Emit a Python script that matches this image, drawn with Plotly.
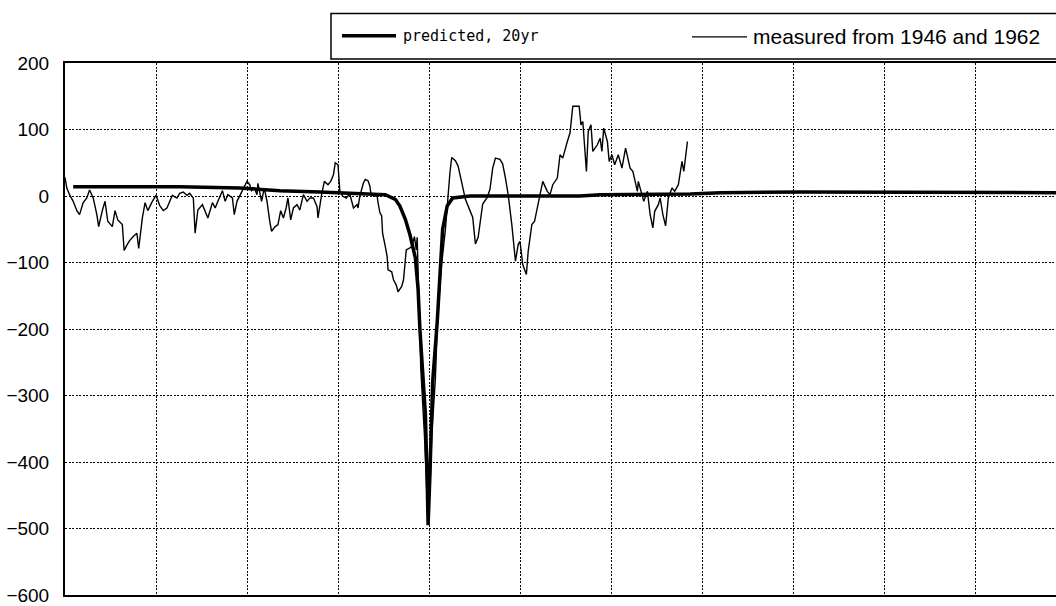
import plotly.graph_objects as go

# Predicted curve (thick line); x in time units, 10 units per grid cell
pred_x = [0.9, 12.6, 19.2, 23.6, 28.0, 32.4, 35.2, 36.3, 36.8, 37.4, 37.9, 38.5,
          38.8, 39.0, 39.6, 39.8, 39.9, 40.1, 40.4, 40.9, 41.2, 41.5, 42.0, 42.6,
          44.5, 56.6, 58.8, 68.7, 72.0, 80.8, 108.9]
pred_y = [14, 14, 12, 8, 6, 4, 2, -5, -15, -35, -58, -93,
          -140, -200, -327, -426, -495, -420, -280, -190, -115, -50, -15, -3,
          0, 0, 2, 3, 5, 6, 5]

# Measured series (thin line)
meas_x = [0.0, 0.2, 0.5, 0.9, 1.3, 1.6, 2.0, 2.4, 2.7, 3.1, 3.5, 3.7, 4.1, 4.4,
          4.7, 5.2, 5.5, 5.8, 6.3, 6.5, 6.8, 7.1, 7.5, 7.9, 8.1, 8.5, 8.8, 9.1,
          9.6, 10.0, 10.4, 10.8, 11.2, 11.5, 11.8, 12.3, 12.6, 13.0, 13.4, 13.7,
          14.1, 14.3, 14.6, 15.1, 15.4, 15.7, 16.2, 16.5, 16.8, 17.3, 17.6, 17.9,
          18.4, 18.6, 18.9, 19.2, 19.6, 20.0, 20.3, 20.5, 20.8, 21.1, 21.2, 21.6,
          21.9, 22.2, 22.5, 22.7, 23.1, 23.4, 23.7, 24.0, 24.3, 24.5, 24.8, 25.1,
          25.5, 25.8, 26.2, 26.6, 26.9, 27.3, 27.7, 27.8, 28.2, 28.5, 28.9, 29.2,
          29.5, 29.7, 30.0, 30.2, 30.5, 30.9, 31.3, 31.5, 31.7, 32.1, 32.2, 32.4,
          32.8, 33.0, 33.3, 33.5, 33.6, 33.9, 34.3, 34.4, 34.6, 34.8, 34.9, 35.2,
          35.4, 35.5, 35.9, 36.1, 36.4, 36.6, 37.0, 37.2, 37.4, 37.5, 37.9, 38.1,
          38.4, 38.6, 38.7, 38.9, 39.1, 39.5, 39.7, 39.9, 40.1, 40.3, 40.7, 40.9,
          41.2, 41.4, 41.8, 42.0, 42.3, 42.5, 42.9, 43.2, 43.7, 44.0, 44.5, 44.8,
          45.1, 45.4, 45.8, 45.9, 46.4, 46.7, 47.0, 47.3, 47.8, 48.1, 48.4, 48.7,
          49.1, 49.5, 49.8, 50.0, 50.3, 50.7, 50.9, 51.3, 51.6, 51.9, 52.2, 52.5,
          53.0, 53.3, 53.6, 54.1, 54.4, 54.7, 55.2, 55.5, 55.8, 56.5, 56.7, 56.9,
          57.3, 57.5, 57.8, 58.0, 58.5, 58.8, 59.0, 59.2, 59.6, 59.8, 60.1, 60.4,
          60.8, 61.2, 61.6, 62.1, 62.4, 62.9, 63.0, 63.4, 63.6, 64.0, 64.3, 64.6,
          64.8, 65.2, 65.4, 65.7, 66.0, 66.3, 66.7, 67.0, 67.4, 67.8, 68.0, 68.4]
meas_y = [28, 12, 2, -8, -22, -28, -10, -3, 9, -3, -28, -46, -22, -8,
          -38, -46, -22, -36, -43, -82, -74, -67, -61, -56, -79, -33, -10, -22,
          -8, 1, -14, -22, -18, -8, 1, -3, 4, 6, 1, 4,
          -3, -56, -21, -13, -22, -33, -10, -18, -8, 8, -8, 2,
          -3, -28, -8, 0, 12, 22, 17, 8, 12, 2, 19, -8,
          12, -8, -38, -53, -46, -43, -22, -33, -18, -3, -36, -18,
          -13, -21, 2, -8, -3, -3, -16, -33, 2, 22, 17, 22,
          32, 50, 47, 8, 0, -3, 3, -8, -18, -13, -18, 0,
          20, 25, 23, 15, 5, 0, 0, -10, -25, -30, -56, -76,
          -91, -111, -114, -126, -134, -144, -136, -126, -91, -81, -78, -76,
          -61, -81, -62, -160, -260, -360, -440, -492, -440, -360, -275, -200,
          -136, -101, -51, -10, 35, 58, 53, 45, 15, -5, -22, -32,
          -72, -62, -22, -12, -2, 10, 42, 57, 55, 48, 27, 2,
          -43, -98, -73, -68, -103, -118, -83, -43, -38, -18, 2, 22,
          7, 2, 17, 27, 62, 57, 82, 95, 135, 135, 107, 112,
          37, 97, 107, 67, 77, 87, 67, 102, 82, 52, 62, 47,
          62, 42, 72, 42, 37, 7, 22, 2, -8, 7, -28, -48,
          -23, -13, -3, -28, -45, -3, 12, 7, 17, 52, 37, 82]

y_ticks = [200, 100, 0, -100, -200, -300, -400, -500, -600]

fig = go.Figure()
fig.add_trace(go.Scatter(x=pred_x, y=pred_y, mode="lines",
                         line=dict(color="black", width=3.5),
                         name="predicted, 20yr"))
fig.add_trace(go.Scatter(x=meas_x, y=meas_y, mode="lines",
                         line=dict(color="black", width=1.4),
                         name="measured from 1946 and 1962"))

grid_dash = "2px,1.5px"
fig.update_layout(
    width=1056, height=606,
    margin=dict(l=65, r=0, t=63, b=8),
    plot_bgcolor="white", paper_bgcolor="white",
    showlegend=False,
    xaxis=dict(range=[0, 108.9], tick0=0, dtick=10, showticklabels=False,
               showgrid=True, gridcolor="black", gridwidth=1.3, griddash=grid_dash,
               showline=True, linecolor="black", linewidth=2, mirror=True,
               zeroline=False, ticks=""),
    yaxis=dict(range=[-600, 200], tickvals=y_ticks,
               showgrid=True, gridcolor="black", gridwidth=1.3, griddash=grid_dash,
               showline=True, linecolor="black", linewidth=2,
               zeroline=False, ticks="", ticklabelstandoff=10,
               ticklabeloverflow="allow",
               tickfont=dict(family="Liberation Sans", size=19, color="black")),
)

# Custom legend box across the top
fig.add_shape(type="rect", xref="paper", yref="paper",
              x0=(331 - 65) / 991, x1=1.02, y0=1.0075, y1=1.093,
              line=dict(color="black", width=1.5), fillcolor="white")
fig.add_shape(type="line", xref="paper", yref="paper",
              x0=(342 - 65) / 991, x1=(396 - 65) / 991, y0=1.051, y1=1.051,
              line=dict(color="black", width=3.5))
fig.add_shape(type="line", xref="paper", yref="paper",
              x0=(692 - 65) / 991, x1=(747 - 65) / 991, y0=1.049, y1=1.049,
              line=dict(color="black", width=1.2))
fig.add_annotation(xref="paper", yref="paper", x=(401 - 65) / 991, y=1.051,
                   xanchor="left", yanchor="middle", showarrow=False,
                   text="predicted, 20yr",
                   font=dict(family="DejaVu Sans Mono", size=15, color="black"))
fig.add_annotation(xref="paper", yref="paper", x=(751 - 65) / 991, y=1.049,
                   xanchor="left", yanchor="middle", showarrow=False,
                   text="measured from 1946 and 1962",
                   font=dict(family="Liberation Sans", size=21, color="black"))

fig.write_html("out.html")
